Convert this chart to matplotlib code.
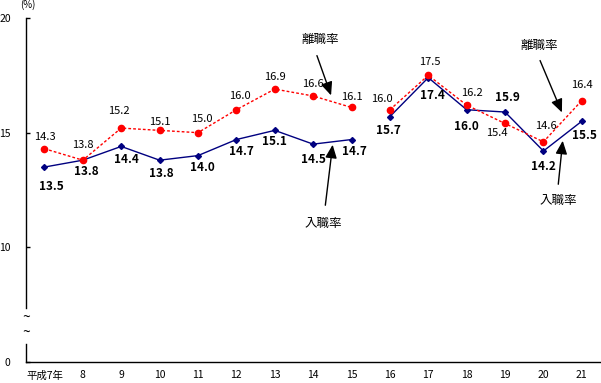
import numpy as np
import matplotlib
matplotlib.use("Agg")
import matplotlib.pyplot as plt

plt.rcParams['font.family'] = ['Noto Sans CJK JP', 'DejaVu Sans']

# 年（平成）
years = ["平成7年", "8", "9", "10", "11", "12", "13", "14", "15",
         "16", "17", "18", "19", "20", "21"]
# 離職率 (%)
rishoku = [14.3, 13.8, 15.2, 15.1, 15.0, 16.0, 16.9, 16.6, 16.1,
           16.0, 17.5, 16.2, 15.4, 14.6, 16.4]
# 入職率 (%)
nyushoku = [13.5, 13.8, 14.4, 13.8, 14.0, 14.7, 15.1, 14.5, 14.7,
            15.7, 17.4, 16.0, 15.9, 14.2, 15.5]

# ラベルのずらし（ピクセル）
red_off = [(0, 12), (0, 15), (-2, 17), (0, 8), (4, 14), (4, 14), (0, 12), (0, 12), (0, 10),
           (-8, 11), (2, 13), (5, 12), (-8, -10), (3, 16), (0, 16)]
blue_off = [(7, -19), (4, -11), (5, -13), (2, -13), (4, -12), (5, -12), (0, -11), (0, -15), (3, -12),
            (-1, -14), (4, -18), (0, -17), (2, 15), (0, -15), (3, -14)]

# 縦軸：0〜10 を圧縮
def fwd(v):
    v = np.asarray(v, dtype=float)
    return np.where(v < 10, v / 10.0, (v - 5) / 5.0)

def inv(u):
    u = np.asarray(u, dtype=float)
    return np.where(u < 1, u * 10.0, u * 5.0 + 5)

fig = plt.figure(figsize=(6.01, 3.83), dpi=100)
ax = fig.add_axes([26 / 601, 21 / 383, 575 / 601, 344 / 383])
ax.set_yscale('function', functions=(fwd, inv))
ax.set_ylim(0, 20)
ax.set_xlim(-0.48, 14.5)

x = np.arange(len(years))
red = '#ff0000'
navy = '#000080'
for seg in (slice(0, 9), slice(9, 15)):
    ax.plot(x[seg], nyushoku[seg], color=navy, lw=1, marker='D', ms=3, zorder=3)
    ax.plot(x[seg], rishoku[seg], color=red, lw=1, ls=(0, (2, 1.5)), marker='o', ms=4.5, zorder=4)

for i in range(len(years)):
    ax.annotate(f"{rishoku[i]:.1f}", (x[i], rishoku[i]), xytext=red_off[i],
                textcoords='offset pixels', ha='center', va='center', fontsize=8)
    ax.annotate(f"{nyushoku[i]:.1f}", (x[i], nyushoku[i]), xytext=blue_off[i],
                textcoords='offset pixels', ha='center', va='center', fontsize=8.5,
                fontweight='bold')

# 軸
for s in ('top', 'right', 'left'):
    ax.spines[s].set_visible(False)
ax.spines['bottom'].set_linewidth(1)
yt = ax.get_yaxis_transform()
ax.plot([0, 0], [0, 1.6], color='black', lw=1, transform=yt, clip_on=False)
ax.plot([0, 0], [4.7, 20], color='black', lw=1, transform=yt, clip_on=False)
ax.text(0, 3.85, "~", transform=yt, ha='center', va='center', fontsize=10)
ax.text(0, 2.5, "~", transform=yt, ha='center', va='center', fontsize=10)

ax.set_yticks([0, 10, 15, 20])
ax.set_yticklabels(["0", "10", "15", "20"])
ax.tick_params(axis='y', direction='in', length=3, width=1, pad=11, labelsize=7.5)
ax.set_xticks(x)
ax.set_xticklabels(years)
ax.tick_params(axis='x', length=0, pad=6, labelsize=7.5)
ax.minorticks_off()

ax.text(28 / 601, 1 - 5 / 383, "(%)", transform=fig.transFigure, ha='center', va='center', fontsize=7)

# 矢印
def px(xp, yp):
    return (xp / 601, 1 - yp / 383)

arr = dict(arrowstyle='-|>,head_length=0.8,head_width=0.35', color='black', lw=1)
notes = [("離職率", (320, 40), (316, 53), (332, 98)),
         ("入職率", (323, 223), (325, 208), (333, 142)),
         ("離職率", (539, 45), (539, 58), (563, 115)),
         ("入職率", (558, 200), (558, 187), (563, 138))]
for label, tpos, tail, tip in notes:
    fig.text(*px(*tpos), label, ha='center', va='center', fontsize=9)
    ax.annotate("", xy=px(*tip), xytext=px(*tail), xycoords='figure fraction',
                textcoords='figure fraction', arrowprops=arr)

fig.savefig("out.png", dpi=100)
